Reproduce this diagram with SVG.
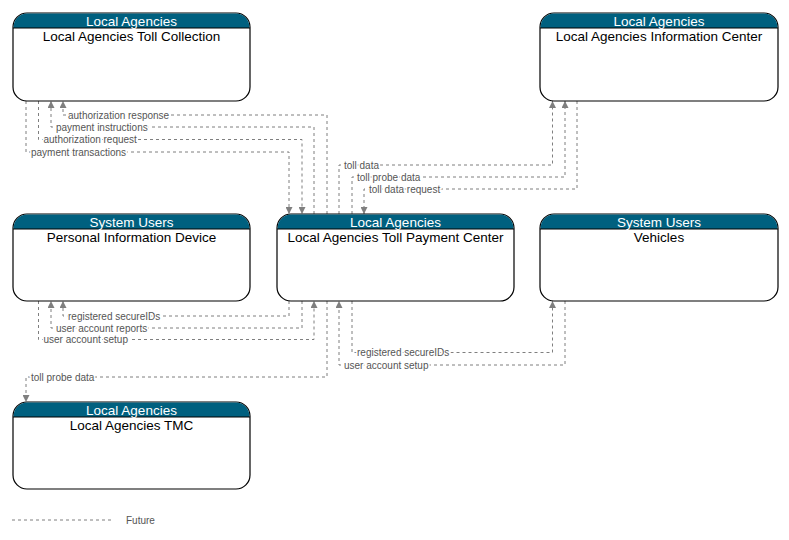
<svg xmlns="http://www.w3.org/2000/svg" width="789" height="540" viewBox="0 0 789 540">
<defs>
<style>
.box{fill:#fff;stroke:#000;stroke-width:1.2}
.hdr{fill:#00607f}
.ht{font-family:"Liberation Sans",Arial,sans-serif;font-size:13.5px;fill:#fff;text-anchor:middle}
.tt{font-family:"Liberation Sans",Arial,sans-serif;font-size:13.5px;fill:#000;text-anchor:middle}
.c{fill:none;stroke:#7f7f7f;stroke-width:1;stroke-dasharray:3,3}
.l{font-family:"Liberation Sans",Arial,sans-serif;font-size:10px;fill:#555;stroke:#fff;stroke-width:3;paint-order:stroke}
</style>
<marker id="a" viewBox="0 0 10 10" refX="10" refY="5" markerWidth="7" markerHeight="7" markerUnits="userSpaceOnUse" orient="auto">
<path d="M0,0 L10,5 L0,10 z" fill="#7f7f7f"/>
</marker>
<clipPath id="hc"><rect x="0" y="0" width="238" height="15"/></clipPath>
</defs>
<rect width="789" height="540" fill="#fff"/>

<g id="connectors">
<path class="c" d="M327,214 V115 H63 V101" marker-end="url(#a)"/>
<path class="c" d="M314,214 V127 H51 V101" marker-end="url(#a)"/>
<path class="c" d="M38.5,101 V139.5 H302 V214" marker-end="url(#a)"/>
<path class="c" d="M26,101 V152 H289 V214" marker-end="url(#a)"/>
<path class="c" d="M339,214 V165 H552.5 V101" marker-end="url(#a)"/>
<path class="c" d="M352,214 V177 H565 V101" marker-end="url(#a)"/>
<path class="c" d="M577,101 V189 H364 V214" marker-end="url(#a)"/>
<path class="c" d="M289,301 V316 H63 V301" marker-end="url(#a)"/>
<path class="c" d="M302,301 V328 H51 V301" marker-end="url(#a)"/>
<path class="c" d="M38.5,301 V339.5 H314 V301" marker-end="url(#a)"/>
<path class="c" d="M327,301 V377 H26 V402" marker-end="url(#a)"/>
<path class="c" d="M352,301 V352.5 H552.5 V301" marker-end="url(#a)"/>
<path class="c" d="M565,301 V365 H339 V301" marker-end="url(#a)"/>
<text class="l" x="68" y="118.5">authorization response</text>
<text class="l" x="56" y="130.5">payment instructions</text>
<text class="l" x="43.5" y="143">authorization request</text>
<text class="l" x="31" y="155.5">payment transactions</text>
<text class="l" x="344" y="168.5">toll data</text>
<text class="l" x="357" y="180.5">toll probe data</text>
<text class="l" x="369" y="192.5">toll data request</text>
<text class="l" x="68" y="319.5">registered secureIDs</text>
<text class="l" x="56" y="331.5">user account reports</text>
<text class="l" x="43.5" y="343">user account setup</text>
<text class="l" x="31" y="380.5">toll probe data</text>
<text class="l" x="357" y="356">registered secureIDs</text>
<text class="l" x="344" y="368.5">user account setup</text>
</g>

<g id="n1" transform="translate(13,13)">
<rect class="box" x="0" y="0" width="237" height="88" rx="14"/>
<rect class="hdr" x="0.6" y="0.6" width="235.8" height="30" rx="13.5" clip-path="url(#hc)"/>
<path d="M0,15 H237" stroke="#000" stroke-width="1"/>
<text class="ht" x="118.5" y="12.5">Local Agencies</text>
<text class="tt" x="118.5" y="28">Local Agencies Toll Collection</text>
</g>

<g id="n2" transform="translate(540,13)">
<rect class="box" x="0" y="0" width="238" height="88" rx="14"/>
<rect class="hdr" x="0.6" y="0.6" width="236.8" height="30" rx="13.5" clip-path="url(#hc)"/>
<path d="M0,15 H238" stroke="#000" stroke-width="1"/>
<text class="ht" x="119" y="12.5">Local Agencies</text>
<text class="tt" x="119" y="28">Local Agencies Information Center</text>
</g>

<g id="n3" transform="translate(13,214)">
<rect class="box" x="0" y="0" width="237" height="87" rx="14"/>
<rect class="hdr" x="0.6" y="0.6" width="235.8" height="30" rx="13.5" clip-path="url(#hc)"/>
<path d="M0,15 H237" stroke="#000" stroke-width="1"/>
<text class="ht" x="118.5" y="12.5">System Users</text>
<text class="tt" x="118.5" y="28">Personal Information Device</text>
</g>

<g id="n4" transform="translate(277,214)">
<rect class="box" x="0" y="0" width="237" height="87" rx="14"/>
<rect class="hdr" x="0.6" y="0.6" width="235.8" height="30" rx="13.5" clip-path="url(#hc)"/>
<path d="M0,15 H237" stroke="#000" stroke-width="1"/>
<text class="ht" x="118.5" y="12.5">Local Agencies</text>
<text class="tt" x="118.5" y="28">Local Agencies Toll Payment Center</text>
</g>

<g id="n5" transform="translate(540,214)">
<rect class="box" x="0" y="0" width="238" height="87" rx="14"/>
<rect class="hdr" x="0.6" y="0.6" width="236.8" height="30" rx="13.5" clip-path="url(#hc)"/>
<path d="M0,15 H238" stroke="#000" stroke-width="1"/>
<text class="ht" x="119" y="12.5">System Users</text>
<text class="tt" x="119" y="28">Vehicles</text>
</g>

<g id="n6" transform="translate(13,402)">
<rect class="box" x="0" y="0" width="237" height="87" rx="14"/>
<rect class="hdr" x="0.6" y="0.6" width="235.8" height="30" rx="13.5" clip-path="url(#hc)"/>
<path d="M0,15 H237" stroke="#000" stroke-width="1"/>
<text class="ht" x="118.5" y="12.5">Local Agencies</text>
<text class="tt" x="118.5" y="28">Local Agencies TMC</text>
</g>

<g id="legend">
<path class="c" d="M12,520 H112"/>
<text x="126" y="524" style="font-family:'Liberation Sans',Arial,sans-serif;font-size:10px;fill:#555">Future</text>
</g>
</svg>
